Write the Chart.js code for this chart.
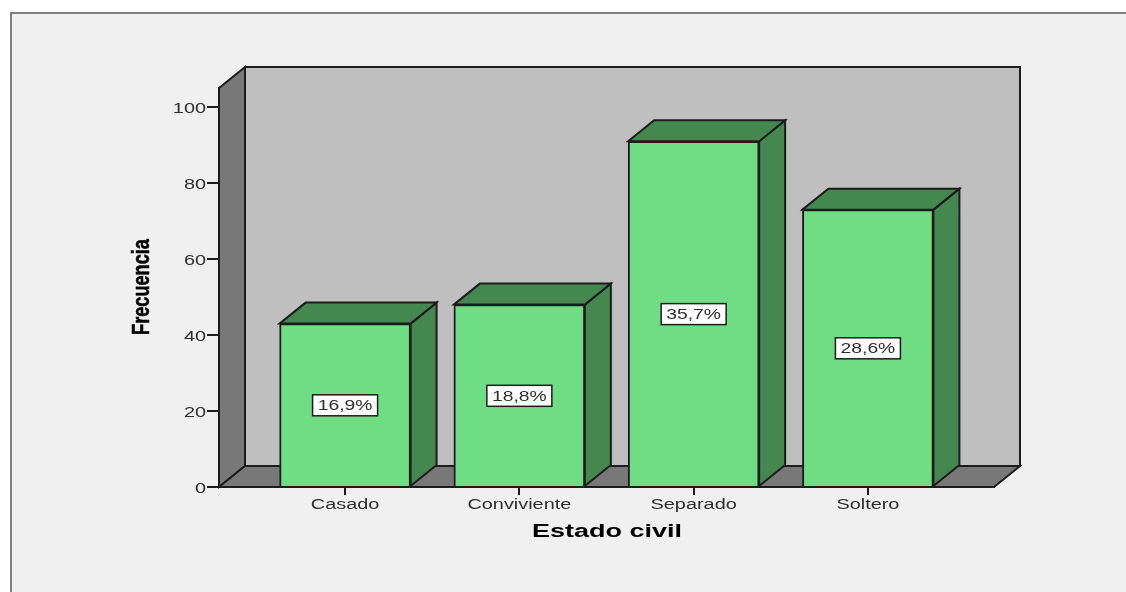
<!DOCTYPE html>
<html><head><meta charset="utf-8">
<style>html,body{margin:0;padding:0;background:#fff}canvas{display:block}</style>
<script src="https://cdn.jsdelivr.net/npm/chart.js@4"></script>
</head><body><canvas id="c" width="1126" height="592"></canvas>
<script>
const categories = ['Casado','Conviviente','Separado','Soltero'];
const frequencies = [43,48,91,73];
const percentLabels = ['16,9%','18,8%','35,7%','28,6%'];
const yTicks = [0,20,40,60,80,100];
const xTitle = 'Estado civil';
const yTitle = 'Frecuencia';

const DX = 26, DY = 21;
const INK = '#1c1c1c', TXT = '#2e2e2e';
function stretched(ctx, text, x, y, sx, font, color, align, bolden) {
  ctx.save();
  ctx.translate(x, y); ctx.scale(sx, 1);
  ctx.font = font; ctx.fillStyle = color;
  ctx.textAlign = align || 'center'; ctx.textBaseline = 'middle';
  ctx.fillText(text, 0, 0);
  if (bolden) { ctx.strokeStyle = color; ctx.lineWidth = bolden; ctx.strokeText(text, 0, 0); }
  ctx.restore();
}
function poly(ctx, pts, fill) {
  ctx.beginPath();
  pts.forEach((p,i)=> i ? ctx.lineTo(p[0],p[1]) : ctx.moveTo(p[0],p[1]));
  ctx.closePath();
  ctx.fillStyle = fill; ctx.fill();
  ctx.strokeStyle = INK; ctx.lineWidth = 2; ctx.lineJoin='miter'; ctx.stroke();
}
const box3d = {
  id: 'box3d',
  beforeDraw(chart) {
    const {ctx, chartArea: a} = chart;
    ctx.save();
    ctx.fillStyle = '#fff'; ctx.fillRect(0,0,1126,592);
    ctx.fillStyle = '#f0f0f0'; ctx.fillRect(10,13,1116,579);
    ctx.fillStyle = '#808080'; ctx.fillRect(10,12,1116,2); ctx.fillRect(10,12,2,580);
    poly(ctx, [[a.left+DX,a.top-DY],[a.right+DX,a.top-DY],[a.right+DX,a.bottom-DY],[a.left+DX,a.bottom-DY]], '#bfbfbf');
    poly(ctx, [[a.left,a.top],[a.left+DX,a.top-DY],[a.left+DX,a.bottom-DY],[a.left,a.bottom]], '#787878');
    poly(ctx, [[a.left,a.bottom],[a.left+DX,a.bottom-DY],[a.right+DX,a.bottom-DY],[a.right,a.bottom]], '#787878');
    ctx.restore();
  },
  beforeDatasetsDraw(chart) {
    const ctx = chart.ctx;
    ctx.save();
    chart.getDatasetMeta(0).data.forEach(el => {
      const l = el.x - el.width/2, r = el.x + el.width/2;
      poly(ctx, [[r,el.y],[r+DX,el.y-DY],[r+DX,el.base-DY],[r,el.base]], '#44874f');
      poly(ctx, [[l,el.y],[l+DX,el.y-DY],[r+DX,el.y-DY],[r,el.y]], '#44874f');
    });
    ctx.restore();
  },
  afterDatasetsDraw(chart) {
    const ctx = chart.ctx, xs = chart.scales.x, ys = chart.scales.y;
    ctx.save();
    chart.getDatasetMeta(0).data.forEach((el,i) => {
      const cy = (el.y + el.base)/2 + 0.5;
      ctx.fillStyle = '#fff'; ctx.strokeStyle = INK; ctx.lineWidth = 1.5;
      ctx.fillRect(el.x-32.5, cy-10.5, 65, 21);
      ctx.strokeRect(el.x-32.5, cy-10.5, 65, 21);
      stretched(ctx, percentLabels[i], el.x, cy+1, 1.38, '14px "Liberation Sans"', TXT);
    });
    const F = '14px "Liberation Sans"';
    ys.ticks.forEach(t => {
      stretched(ctx, String(t.value), 206, ys.getPixelForValue(t.value)+2.5, 1.42, F, TXT, 'right');
    });
    xs.ticks.forEach(t => {
      stretched(ctx, categories[t.value], xs.getPixelForValue(t.value), 505, 1.42, F, TXT);
    });
    stretched(ctx, xTitle, 607, 532, 1.5, 'bold 18px "Liberation Sans"', '#000');
    ctx.translate(143, 287); ctx.rotate(-Math.PI/2);
    stretched(ctx, yTitle, 0, 0, 0.79, 'bold 23px "Liberation Sans"', '#000', 'center', 0.5);
    ctx.restore();
  }
};
new Chart(document.getElementById('c'), {
  type: 'bar',
  data: { datasets: [{
    data: categories.map((c,i)=>({x:i,y:frequencies[i]})),
    backgroundColor: '#6fdd84', borderColor: INK, borderWidth: 2,
    barThickness: 131
  }]},
  plugins: [box3d],
  options: {
    responsive: false, animation: false, devicePixelRatio: 1,
    layout: { padding: { top: 88, right: 132, left: 0, bottom: 0 } },
    plugins: { legend: {display:false}, tooltip: {enabled:false} },
    scales: {
      x: { type:'linear', min:-0.7235, max:3.7235, offset:false,
        afterBuildTicks(s){ s.ticks = categories.map((c,i)=>({value:i})); },
        afterFit(s){ s.height = 105; },
        ticks:{display:false},
        border:{display:true,color:INK,width:2},
        grid:{offset:false,drawOnChartArea:false,drawTicks:true,tickLength:8,tickColor:INK,lineWidth:2}
      },
      y: { min:0, max:105.01,
        afterBuildTicks(s){ s.ticks = yTicks.map(v=>({value:v})); },
        afterFit(s){ s.width = 219; },
        ticks:{display:false},
        border:{display:true,color:INK,width:2},
        grid:{drawOnChartArea:false,drawTicks:true,tickLength:12,tickColor:INK,lineWidth:2}
      }
    }
  }
});
</script></body></html>
